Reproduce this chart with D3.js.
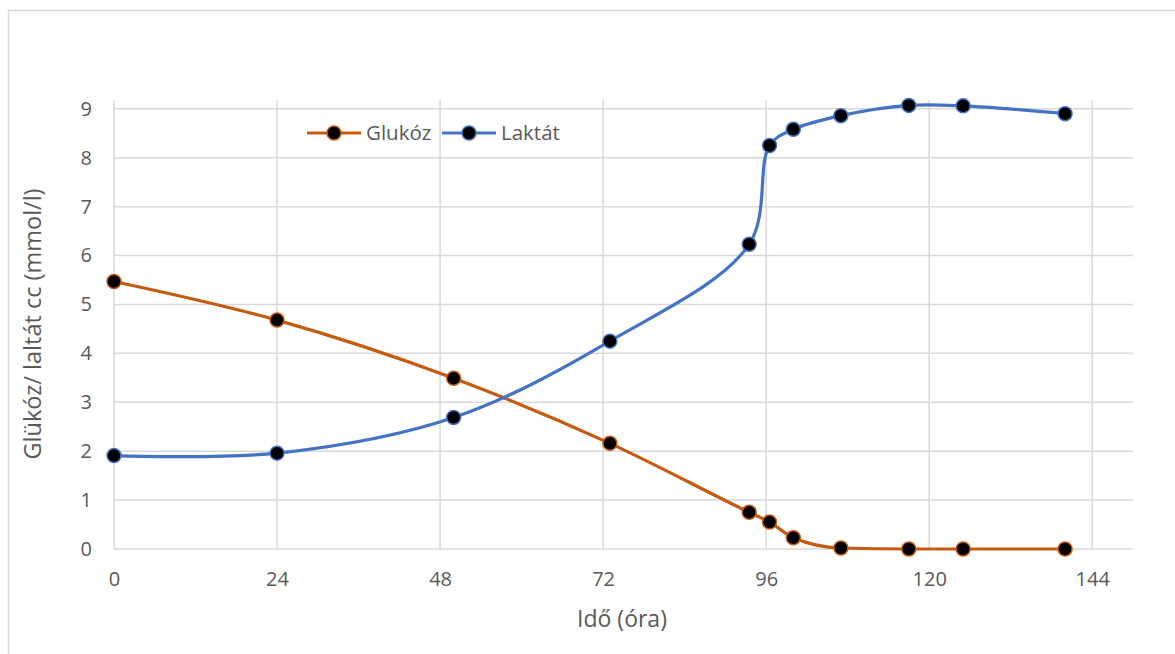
<html>
<head>
<meta charset="utf-8">
<title>Glükóz / Laktát</title>
<style>
  body { margin: 0; background: #fff; }
  text { font-family: "Open Sans", sans-serif; fill: #595959; }
</style>
<script src="https://d3js.org/d3.v7.min.js"></script>
</head>
<body>
<svg width="1175" height="654"></svg>
<script>
// data
var hours   = [0, 24, 50, 73, 93.5, 96.5, 100, 107, 117, 125, 140];
var glukoz  = [5.47, 4.68, 3.49, 2.16, 0.75, 0.55, 0.23, 0.02, 0.0, 0.0, 0.0];
var laktat  = [1.91, 1.96, 2.69, 4.25, 6.23, 8.25, 8.58, 8.86, 9.07, 9.06, 8.90];
var xTicks  = [0, 24, 48, 72, 96, 120, 144];
var yTicks  = [0, 1, 2, 3, 4, 5, 6, 7, 8, 9];
var seriesNames = ["Glukóz", "Laktát"];
var colors = ["#C55A11", "#4472C4"];

var svg = d3.select("svg"),
    margin = {top: 100, right: 42, bottom: 105, left: 114},
    width = 1175 - margin.left - margin.right,
    height = 654 - margin.top - margin.bottom;

// outer frame (only top & left are visible in the picture)
svg.append("rect")
  .attr("x", 8.5).attr("y", 10.5)
  .attr("width", 1200).attr("height", 700)
  .attr("fill", "none")
  .attr("stroke", "#d9d9d9")
  .attr("stroke-width", 1.5);

var g = svg.append("g").attr("transform", `translate(${margin.left},${margin.top})`);

var x = d3.scaleLinear().domain([0, 150]).range([0, width]);
var y = d3.scaleLinear().domain([0, 9.18]).range([height, 0]);

// grid
g.append("g").selectAll("line").data(yTicks).join("line")
  .attr("x1", 0).attr("x2", width)
  .attr("y1", d => y(d)).attr("y2", d => y(d))
  .attr("stroke", "#d9d9d9").attr("stroke-width", 1.5);
g.append("g").selectAll("line").data(xTicks).join("line")
  .attr("x1", d => x(d)).attr("x2", d => x(d))
  .attr("y1", 0).attr("y2", height)
  .attr("stroke", "#d9d9d9").attr("stroke-width", 1.5);

// axes
var xAxis = g.append("g")
  .attr("transform", `translate(0,${height})`)
  .call(d3.axisBottom(x).tickValues(xTicks).tickSize(0).tickPadding(23));
xAxis.select(".domain").remove();
var yAxis = g.append("g")
  .call(d3.axisLeft(y).tickValues(yTicks).tickSize(0).tickPadding(22));
yAxis.select(".domain").remove();
svg.selectAll(".tick text")
  .style("font-family", "'Open Sans', sans-serif")
  .style("font-size", "20px")
  .attr("fill", "#595959");

// axis titles
svg.append("text")
  .attr("x", 622).attr("y", 627)
  .attr("text-anchor", "middle")
  .style("font-size", "23px")
  .text("Idő (óra)");
svg.append("text")
  .attr("transform", "translate(41,324) rotate(-90)")
  .attr("text-anchor", "middle")
  .style("font-size", "23.5px")
  .text("Glükóz/ laltát cc (mmol/l)");

// lines
var series = [glukoz, laktat];
var curves = [d3.curveMonotoneX, d3.curveCatmullRom.alpha(0.5)];

series.forEach(function(vals, i) {
  var pts = hours.map((h, j) => [h, vals[j]]);
  var line = d3.line()
    .x(d => x(d[0]))
    .y(d => y(d[1]))
    .curve(curves[i]);
  g.append("path")
    .datum(pts)
    .attr("d", line)
    .attr("fill", "none")
    .attr("stroke", colors[i])
    .attr("stroke-width", 3.2);
  g.append("g").selectAll("circle").data(pts).join("circle")
    .attr("cx", d => x(d[0]))
    .attr("cy", d => y(d[1]))
    .attr("r", 7)
    .attr("fill", "#000")
    .attr("stroke", colors[i])
    .attr("stroke-width", 1.5);
});

// legend
var legend = svg.append("g").attr("transform", "translate(307,133)");
var legX = [0, 135];
seriesNames.forEach(function(name, i) {
  var lg = legend.append("g").attr("transform", `translate(${legX[i]},0)`);
  lg.append("line").attr("x1", 0).attr("x2", 54)
    .attr("stroke", colors[i]).attr("stroke-width", 3.2);
  lg.append("circle").attr("cx", 27).attr("r", 7)
    .attr("fill", "#000").attr("stroke", colors[i]).attr("stroke-width", 1.5);
  lg.append("text").attr("x", 59).attr("dy", "0.35em")
    .style("font-size", "20.5px")
    .text(name);
});
</script>
</body>
</html>
